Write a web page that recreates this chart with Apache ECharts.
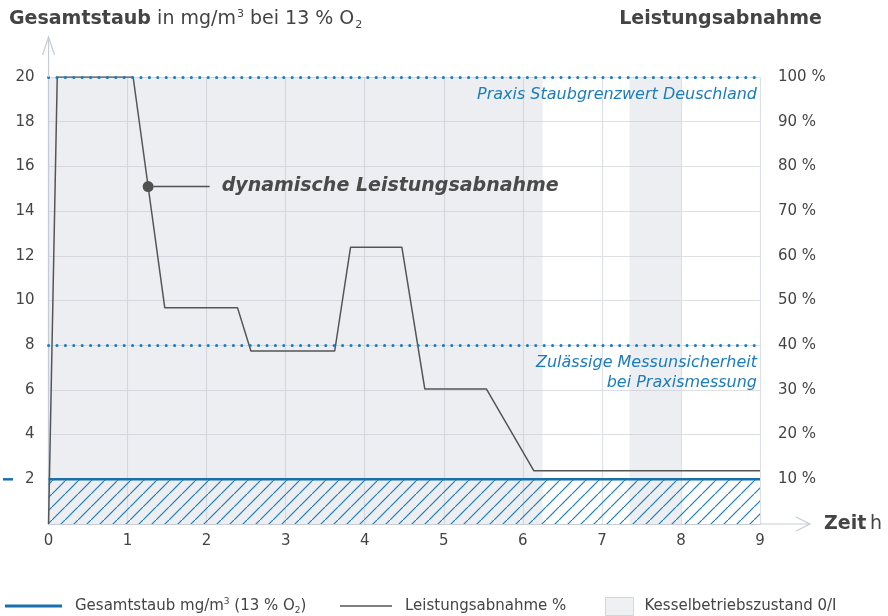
<!DOCTYPE html>
<html>
<head>
<meta charset="utf-8">
<script src="https://cdn.jsdelivr.net/npm/echarts@6/dist/echarts.min.js"></script>
<style>html,body{margin:0;padding:0;background:#fff;}#c{width:888px;height:616px;}</style>
</head>
<body>
<div id="c"></div>
<script>
// ---- data ----
const hours        = [0, 0.11, 1.07, 1.47, 2.39, 2.56, 3.62, 3.82, 4.47, 4.76, 5.54, 6.14, 9];
const leistungPct  = [0, 100, 100, 48.4, 48.4, 38.7, 38.7, 61.9, 61.9, 30.2, 30.2, 11.9, 11.9];
const staubHours   = [0, 9];
const staubValues  = [2, 2];
const kesselOnFrom = [0, 7.35];
const kesselOnTo   = [6.25, 8.0];
const limitValues  = [20, 8];
const limitLabels  = ['Praxis Staubgrenzwert Deuschland', 'Zulässige Messunsicherheit\nbei Praxismessung'];
const annotPoint   = [1.26, 15.1];
const annotText    = 'dynamische Leistungsabnahme';
const xTickLabels  = ['0','1','2','3','4','5','6','7','8','9'];
const leftTicks    = ['2','4','6','8','10','12','14','16','18','20'];
const rightTicks   = ['10 %','20 %','30 %','40 %','50 %','60 %','70 %','80 %','90 %','100 %'];

const FONT = 'DejaVu Sans';
const TXT = '#444444';
const BLUE = '#1870ad';
const BLUE2 = '#1b7cbd';
const GRIDC = '#dde0e4';
const AXISC = '#c5ccd5';

// hatch pattern
const pat = document.createElement('canvas');
pat.width = 13; pat.height = 13;
const pc = pat.getContext('2d');
pc.strokeStyle = BLUE2; pc.lineWidth = 1.2;
pc.beginPath();
pc.moveTo(-2, 15); pc.lineTo(15, -2);
pc.stroke();

const chart = echarts.init(document.getElementById('c'), null, {renderer: 'canvas'});

const option = {
  animation: false,
  backgroundColor: '#fff',
  textStyle: {fontFamily: FONT},
  title: [
    {
      left: 9, top: 3, padding: [3, 0, 3, 0],
      text: '{b|Gesamtstaub} {n|in mg/m}{sup|3}{n| bei 13 % O}{sub|2}',
      textStyle: {
        rich: {
          b: {fontFamily: FONT, fontSize: 19, fontWeight: 'bold', color: TXT, lineHeight: 26},
          n: {fontFamily: FONT, fontSize: 19, fontWeight: 'normal', color: TXT, lineHeight: 26},
          sup: {fontFamily: FONT, fontSize: 11, fontWeight: 'normal', color: TXT, lineHeight: 26, padding: [0, 0, 10, 1]},
          sub: {fontFamily: FONT, fontSize: 11, fontWeight: 'normal', color: TXT, lineHeight: 26, padding: [12, 0, 0, 1]}
        }
      }
    },
    {
      right: 66, top: 3, padding: [3, 0, 3, 0],
      text: 'Leistungsabnahme',
      textStyle: {fontFamily: FONT, fontSize: 19, fontWeight: 'bold', color: TXT, lineHeight: 26}
    }
  ],
  grid: {left: 44, right: 128, top: 77, bottom: 92, containLabel: false},
  legend: [
    {
      left: 5, top: 597, padding: 0, selectedMode: false,
      icon: 'rect', itemWidth: 57, itemHeight: 3,
      data: ['Gesamtstaub'],
      formatter: () => '{n|Gesamtstaub mg/m}{sup|3}{n| (13 % O}{sub|2}{n|)}',
      textStyle: {
        padding: [0, 0, 0, 8],
        rich: {
          n: {fontFamily: FONT, fontSize: 15, color: TXT, lineHeight: 18},
          sup: {fontFamily: FONT, fontSize: 9, color: TXT, lineHeight: 18, padding: [0, 0, 8, 0]},
          sub: {fontFamily: FONT, fontSize: 9, color: TXT, lineHeight: 18, padding: [9, 0, 0, 0]}
        }
      }
    },
    {
      left: 340, top: 597, padding: 0, selectedMode: false,
      icon: 'rect', itemWidth: 52, itemHeight: 1.4,
      data: ['Leistungsabnahme %'],
      textStyle: {fontFamily: FONT, fontSize: 15, color: TXT, padding: [0, 0, 0, 8], lineHeight: 18}
    },
    {
      left: 605, top: 597, padding: 0, selectedMode: false,
      icon: 'rect', itemWidth: 28, itemHeight: 18,
      data: [{name: 'Kesselbetriebszustand 0/I', itemStyle: {color: '#eef0f2', borderColor: '#d3d7dc', borderWidth: 1}}],
      textStyle: {fontFamily: FONT, fontSize: 15, color: TXT, padding: [0, 0, 0, 6], lineHeight: 18}
    }
  ],
  xAxis: {
    type: 'value', min: 0, max: 9, interval: 1,
    name: '{b|Zeit} {n|h}', nameLocation: 'end', nameGap: 64,
    nameTextStyle: {
      rich: {
        b: {fontFamily: FONT, fontSize: 19, fontWeight: 'bold', color: TXT},
        n: {fontFamily: FONT, fontSize: 19, color: TXT}
      }
    },
    axisLine: {show: true, lineStyle: {color: AXISC, width: 1.2}},
    axisTick: {show: false},
    axisLabel: {margin: 10, fontSize: 15, fontWeight: 'normal', color: TXT, fontFamily: FONT,
      formatter: v => xTickLabels[Math.round(v)]},
    splitLine: {show: true, lineStyle: {color: GRIDC, width: 1.2}}
  },
  yAxis: [
    {
      type: 'value', min: 0, max: 20, interval: 2,
      axisLine: {show: true, lineStyle: {color: AXISC, width: 1.2}},
      axisTick: {show: false},
      axisLabel: {
        margin: 14, fontSize: 15, fontWeight: 'normal', color: TXT, fontFamily: FONT,
        formatter: v => {
          if (v === 0) return '';
          const s = leftTicks[v / 2 - 1];
          return v === 2 ? '{m|}{g|}' + s : s;
        },
        rich: {
          m: {width: 10, height: 2.5, backgroundColor: BLUE},
          g: {width: 12, height: 2}
        }
      },
      splitLine: {show: true, lineStyle: {color: GRIDC, width: 1.2}}
    },
    {
      type: 'value', min: 0, max: 100, interval: 10, position: 'right',
      axisLine: {show: false}, axisTick: {show: false},
      axisLabel: {margin: 18, fontSize: 15, fontWeight: 'normal', color: TXT, fontFamily: FONT,
        formatter: v => v === 0 ? '' : rightTicks[v / 10 - 1]},
      splitLine: {show: false}
    }
  ],
  series: [
    {
      name: 'Kesselbetriebszustand 0/I',
      type: 'line', data: [], z: 1,
      itemStyle: {color: '#eef0f2'},
      markArea: {
        silent: true,
        itemStyle: {color: 'rgba(196,202,212,0.33)'},
        data: kesselOnFrom.map((f, i) => [{xAxis: f}, {xAxis: kesselOnTo[i]}])
      }
    },
    {
      name: 'Gesamtstaub',
      type: 'line', z: 3,
      data: staubHours.map((h, i) => [h, staubValues[i]]),
      symbol: 'none',
      lineStyle: {color: BLUE, width: 2.6},
      itemStyle: {color: BLUE},
      areaStyle: {color: {image: pat, repeat: 'repeat'}, opacity: 1},
      markLine: {
        silent: true, symbol: ['none', 'none'],
        lineStyle: {color: BLUE2, width: 3, type: [0.1, 8.3], cap: 'round'},
        label: {
          show: true, position: 'insideEndBottom', distance: [3, 8],
          fontFamily: FONT, fontStyle: 'italic', fontSize: 16, color: BLUE2,
          lineHeight: 20, align: 'right'
        },
        data: limitValues.map((v, i) => ({yAxis: v, label: {formatter: limitLabels[i]}}))
      }
    },
    {
      name: 'Leistungsabnahme %',
      type: 'line', yAxisIndex: 1, z: 4,
      data: hours.map((h, i) => [h, leistungPct[i]]),
      symbol: 'none',
      lineStyle: {color: '#555555', width: 1.5},
      itemStyle: {color: '#555555'}
    },
    {
      name: 'annot',
      type: 'scatter', z: 5,
      data: [annotPoint],
      symbolSize: 11,
      itemStyle: {color: '#505050', opacity: 1},
      label: {
        show: true, position: 'right', distance: 0,
        formatter: () => '{l|}{t|' + annotText + '}',
        rich: {
          l: {width: 56, height: 1.5, backgroundColor: '#505050'},
          t: {fontFamily: FONT, fontSize: 19, fontWeight: 'bold', fontStyle: 'italic', color: '#4a4a4a', padding: [0, 0, 0, 12]}
        }
      }
    }
  ]
};

chart.setOption(option);

// axis arrows (decoration)
const px0 = chart.convertToPixel({xAxisIndex: 0}, 0);
const px9 = chart.convertToPixel({xAxisIndex: 0}, 9);
const py0 = chart.convertToPixel({yAxisIndex: 0}, 0);
const py20 = chart.convertToPixel({yAxisIndex: 0}, 20);
const arrowStyle = {stroke: AXISC, lineWidth: 1.2, fill: null};
chart.setOption({
  graphic: [
    {type: 'line', shape: {x1: px9, y1: py0, x2: px9 + 50, y2: py0}, style: arrowStyle, z: 10},
    {type: 'polyline', shape: {points: [[px9 + 36, py0 - 7], [px9 + 50, py0], [px9 + 36, py0 + 7]]}, style: arrowStyle, z: 10},
    {type: 'line', shape: {x1: px0, y1: py20, x2: px0, y2: py20 - 40}, style: arrowStyle, z: 10},
    {type: 'polyline', shape: {points: [[px0 - 6, py20 - 22], [px0, py20 - 40], [px0 + 6, py20 - 22]]}, style: arrowStyle, z: 10}
  ]
});
</script>
</body>
</html>
